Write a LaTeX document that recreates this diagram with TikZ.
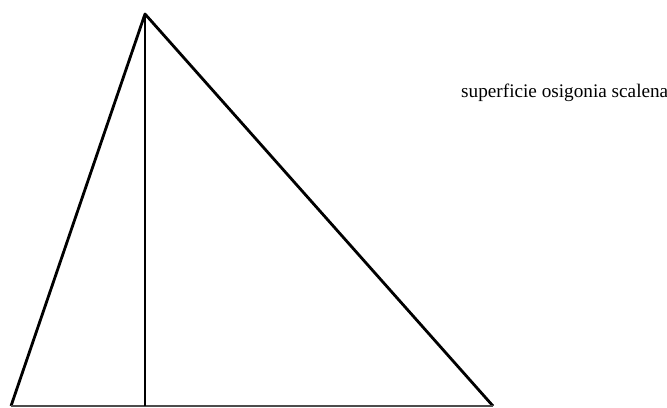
\documentclass[tikz,border=0pt]{standalone}
\usepackage{fontspec}
\setmainfont{Liberation Serif}
\begin{document}
\begin{tikzpicture}[x=0.03cm, y=0.03cm, line join=round]
        \useasboundingbox (0,0) rectangle (667,407);
        % Vertices of the triangle
        \coordinate (apex) at (145,393);
        \coordinate (left) at (11,1);
        \coordinate (right) at (493,1);
        \coordinate (foot) at (145,1);
        
        % Triangle
        \draw[line width=2.4pt] (left) -- (apex) -- (right);
        \draw[line width=1.2pt, black!70] (left) -- (right);
        
        % Height
        \draw[line width=2.2pt] (apex) -- (foot);
        
        % Label
        \node[anchor=west, inner sep=0pt, font=\fontsize{16.4}{19}\selectfont] (label) at (461,314) {superficie osigonia scalena};
    \end{tikzpicture}
\end{document}
